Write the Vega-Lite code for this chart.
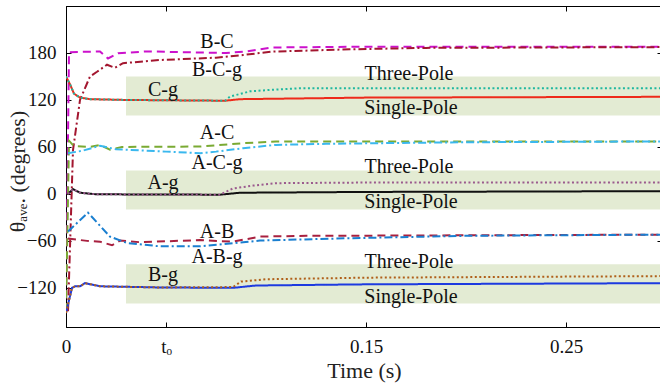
{
  "$schema": "https://vega.github.io/schema/vega-lite/v6.json",
  "width": 596,
  "height": 321,
  "autosize": "none",
  "padding": {"left": 66, "top": 6, "right": 0, "bottom": 63},
  "background": "white",
  "config": {
    "view": {"stroke": "black", "strokeWidth": 1},
    "axis": {
      "grid": false,
      "domainColor": "black",
      "tickColor": "black",
      "labelColor": "#111",
      "titleColor": "#222",
      "labelFont": "Liberation Serif",
      "titleFont": "Liberation Serif",
      "labelFontSize": 19,
      "titleFontSize": 22,
      "titleFontWeight": "normal"
    }
  },
  "datasets": {
    "lines": [
      {"s": "BC", "t": 0, "v": -150}, {"s": "BC", "t": 0.0015, "v": 181}, {"s": "BC", "t": 0.017, "v": 182}, {"s": "BC", "t": 0.021, "v": 173}, {"s": "BC", "t": 0.026, "v": 179.6}, {"s": "BC", "t": 0.04, "v": 182}, {"s": "BC", "t": 0.08, "v": 180}, {"s": "BC", "t": 0.09, "v": 182}, {"s": "BC", "t": 0.103, "v": 187}, {"s": "BC", "t": 0.15, "v": 188}, {"s": "BC", "t": 0.298, "v": 188},
      {"s": "BCg", "t": 0.001, "v": -150}, {"s": "BCg", "t": 0.0035, "v": 56}, {"s": "BCg", "t": 0.007, "v": 120}, {"s": "BCg", "t": 0.012, "v": 150}, {"s": "BCg", "t": 0.0155, "v": 156}, {"s": "BCg", "t": 0.0205, "v": 165}, {"s": "BCg", "t": 0.0245, "v": 161}, {"s": "BCg", "t": 0.0285, "v": 167}, {"s": "BCg", "t": 0.047, "v": 171}, {"s": "BCg", "t": 0.075, "v": 174}, {"s": "BCg", "t": 0.0885, "v": 177.4}, {"s": "BCg", "t": 0.103, "v": 181.7}, {"s": "BCg", "t": 0.142, "v": 184.7}, {"s": "BCg", "t": 0.18, "v": 186.5}, {"s": "BCg", "t": 0.298, "v": 187.5},
      {"s": "Cg1", "t": 0, "v": 150}, {"s": "Cg1", "t": 0.002, "v": 140}, {"s": "Cg1", "t": 0.004, "v": 128}, {"s": "Cg1", "t": 0.007, "v": 123}, {"s": "Cg1", "t": 0.012, "v": 121}, {"s": "Cg1", "t": 0.03, "v": 120}, {"s": "Cg1", "t": 0.0795, "v": 119}, {"s": "Cg1", "t": 0.087, "v": 121}, {"s": "Cg1", "t": 0.15, "v": 123}, {"s": "Cg1", "t": 0.298, "v": 124},
      {"s": "Cg3", "t": 0, "v": 150}, {"s": "Cg3", "t": 0.002, "v": 140}, {"s": "Cg3", "t": 0.004, "v": 128}, {"s": "Cg3", "t": 0.007, "v": 123}, {"s": "Cg3", "t": 0.012, "v": 121}, {"s": "Cg3", "t": 0.03, "v": 120}, {"s": "Cg3", "t": 0.0795, "v": 119}, {"s": "Cg3", "t": 0.082, "v": 124.3}, {"s": "Cg3", "t": 0.092, "v": 131}, {"s": "Cg3", "t": 0.103, "v": 133}, {"s": "Cg3", "t": 0.117, "v": 135}, {"s": "Cg3", "t": 0.298, "v": 135},
      {"s": "AC", "t": 0, "v": -150}, {"s": "AC", "t": 0.0015, "v": 68}, {"s": "AC", "t": 0.004, "v": 61}, {"s": "AC", "t": 0.012, "v": 60}, {"s": "AC", "t": 0.017, "v": 62.5}, {"s": "AC", "t": 0.022, "v": 56.6}, {"s": "AC", "t": 0.028, "v": 60}, {"s": "AC", "t": 0.067, "v": 60.5}, {"s": "AC", "t": 0.088, "v": 64.7}, {"s": "AC", "t": 0.105, "v": 66.8}, {"s": "AC", "t": 0.298, "v": 67},
      {"s": "ACg", "t": 0.001, "v": 52}, {"s": "ACg", "t": 0.008, "v": 55}, {"s": "ACg", "t": 0.017, "v": 61.5}, {"s": "ACg", "t": 0.025, "v": 57}, {"s": "ACg", "t": 0.05, "v": 54}, {"s": "ACg", "t": 0.067, "v": 52}, {"s": "ACg", "t": 0.075, "v": 54}, {"s": "ACg", "t": 0.0885, "v": 58.4}, {"s": "ACg", "t": 0.105, "v": 62.6}, {"s": "ACg", "t": 0.13, "v": 64}, {"s": "ACg", "t": 0.2, "v": 66}, {"s": "ACg", "t": 0.298, "v": 67},
      {"s": "Ag1", "t": 0.001, "v": 0}, {"s": "Ag1", "t": 0.0035, "v": 6}, {"s": "Ag1", "t": 0.007, "v": 1.5}, {"s": "Ag1", "t": 0.015, "v": -0.5}, {"s": "Ag1", "t": 0.077, "v": -1}, {"s": "Ag1", "t": 0.087, "v": 1.5}, {"s": "Ag1", "t": 0.15, "v": 2.5}, {"s": "Ag1", "t": 0.298, "v": 3.5},
      {"s": "Ag3", "t": 0.001, "v": 0}, {"s": "Ag3", "t": 0.0035, "v": 6}, {"s": "Ag3", "t": 0.007, "v": 1.5}, {"s": "Ag3", "t": 0.015, "v": -0.5}, {"s": "Ag3", "t": 0.077, "v": -1}, {"s": "Ag3", "t": 0.0835, "v": 7}, {"s": "Ag3", "t": 0.0935, "v": 10.6}, {"s": "Ag3", "t": 0.105, "v": 13.7}, {"s": "Ag3", "t": 0.15, "v": 14.5}, {"s": "Ag3", "t": 0.298, "v": 14.5},
      {"s": "AB", "t": 0.001, "v": -57}, {"s": "AB", "t": 0.0105, "v": -60}, {"s": "AB", "t": 0.017, "v": -61}, {"s": "AB", "t": 0.023, "v": -65.6}, {"s": "AB", "t": 0.027, "v": -59.6}, {"s": "AB", "t": 0.037, "v": -61.7}, {"s": "AB", "t": 0.067, "v": -59}, {"s": "AB", "t": 0.0835, "v": -61}, {"s": "AB", "t": 0.097, "v": -54.5}, {"s": "AB", "t": 0.12, "v": -53.6}, {"s": "AB", "t": 0.298, "v": -52},
      {"s": "ABg", "t": 0.001, "v": -48}, {"s": "ABg", "t": 0.011, "v": -24}, {"s": "ABg", "t": 0.022, "v": -54.6}, {"s": "ABg", "t": 0.0305, "v": -62.7}, {"s": "ABg", "t": 0.047, "v": -67}, {"s": "ABg", "t": 0.067, "v": -67}, {"s": "ABg", "t": 0.0755, "v": -65}, {"s": "ABg", "t": 0.097, "v": -59.6}, {"s": "ABg", "t": 0.142, "v": -56.6}, {"s": "ABg", "t": 0.2, "v": -53.5}, {"s": "ABg", "t": 0.298, "v": -52},
      {"s": "Bg1", "t": 0, "v": -152}, {"s": "Bg1", "t": 0.003, "v": -120}, {"s": "Bg1", "t": 0.0045, "v": -118}, {"s": "Bg1", "t": 0.007, "v": -118}, {"s": "Bg1", "t": 0.0095, "v": -114}, {"s": "Bg1", "t": 0.017, "v": -118}, {"s": "Bg1", "t": 0.047, "v": -119.5}, {"s": "Bg1", "t": 0.0835, "v": -120}, {"s": "Bg1", "t": 0.095, "v": -117}, {"s": "Bg1", "t": 0.15, "v": -115.5}, {"s": "Bg1", "t": 0.298, "v": -114},
      {"s": "Bg3", "t": 0, "v": -152}, {"s": "Bg3", "t": 0.003, "v": -120}, {"s": "Bg3", "t": 0.0045, "v": -118}, {"s": "Bg3", "t": 0.007, "v": -118}, {"s": "Bg3", "t": 0.0095, "v": -114}, {"s": "Bg3", "t": 0.017, "v": -118}, {"s": "Bg3", "t": 0.047, "v": -119.5}, {"s": "Bg3", "t": 0.0835, "v": -119}, {"s": "Bg3", "t": 0.0875, "v": -112}, {"s": "Bg3", "t": 0.1, "v": -109}, {"s": "Bg3", "t": 0.15, "v": -107}, {"s": "Bg3", "t": 0.298, "v": -105}
    ],
    "boxes": [
      {"x1": 0.03, "x2": 0.298, "y1": 100, "y2": 150},
      {"x1": 0.03, "x2": 0.298, "y1": -20, "y2": 30},
      {"x1": 0.03, "x2": 0.298, "y1": -140, "y2": -90}
    ],
    "labels": [
      {"label": "B-C", "t": 0.0755, "v": 194},
      {"label": "B-C-g", "t": 0.0755, "v": 158},
      {"label": "C-g", "t": 0.0485, "v": 133},
      {"label": "Three-Pole", "t": 0.1715, "v": 153},
      {"label": "Single-Pole", "t": 0.1725, "v": 110},
      {"label": "A-C", "t": 0.0755, "v": 78},
      {"label": "A-C-g", "t": 0.0755, "v": 40},
      {"label": "A-g", "t": 0.0485, "v": 14},
      {"label": "Three-Pole", "t": 0.1715, "v": 34.5},
      {"label": "Single-Pole", "t": 0.1725, "v": -10},
      {"label": "A-B", "t": 0.0755, "v": -48.5},
      {"label": "A-B-g", "t": 0.0755, "v": -80.4},
      {"label": "B-g", "t": 0.0485, "v": -103},
      {"label": "Three-Pole", "t": 0.1715, "v": -87},
      {"label": "Single-Pole", "t": 0.1725, "v": -131.5}
    ]
  },
  "layer": [
    {
      "data": {"name": "boxes"},
      "mark": {"type": "rect", "color": "#e3ebd3"},
      "encoding": {
        "x": {"field": "x1", "type": "quantitative", "scale": {"domain": [0, 0.298], "nice": false, "zero": false},
          "axis": {"orient": "bottom", "values": [0, 0.05, 0.15, 0.25], "labelExpr": "datum.value == 0.05 ? 'tₒ' : datum.value == 0 ? '0' : format(datum.value, '.2f')", "tickSize": -5, "labelPadding": 15, "title": "Time (s)", "titlePadding": 4, "labelFlush": false}},
        "x2": {"field": "x2"},
        "y": {"field": "y1", "type": "quantitative", "scale": {"domain": [-170, 240], "nice": false, "zero": false},
          "axis": {"orient": "left", "values": [-120, -60, 0, 60, 120, 180], "tickSize": -5, "labelPadding": 15, "title": "θₐᵥₑ. (degrees)", "titleX": -37, "titleY": 165, "titleBaseline": "bottom", "labelFlush": false}},
        "y2": {"field": "y2"}
      }
    },
    {
      "data": {"name": "lines"},
      "mark": {"type": "line", "strokeWidth": 2, "clip": true},
      "encoding": {
        "x": {"field": "t", "type": "quantitative", "axis": {"orient": "top", "values": [0, 0.05, 0.15, 0.25], "labels": false, "tickSize": -5, "title": null}},
        "y": {"field": "v", "type": "quantitative", "axis": {"orient": "right", "values": [-120, -60, 0, 60, 120, 180], "labels": false, "tickSize": -5, "title": null}},
        "detail": {"field": "s"},
        "color": {"field": "s", "type": "nominal", "legend": null,
          "scale": {"domain": ["BC", "BCg", "Cg1", "Cg3", "AC", "ACg", "Ag1", "Ag3", "AB", "ABg", "Bg1", "Bg3"],
            "range": ["#cc11cc", "#a3162f", "#ee2a1a", "#1fb8a0", "#7aaa33", "#3ab8ee", "#111111", "#9b5a8e", "#a8203f", "#1a7fd0", "#1d3ae0", "#b0601a"]}},
        "strokeDash": {"field": "s", "type": "nominal", "legend": null,
          "scale": {"domain": ["BC", "BCg", "Cg1", "Cg3", "AC", "ACg", "Ag1", "Ag3", "AB", "ABg", "Bg1", "Bg3"],
            "range": [[8, 5], [8, 3, 2, 3], [1, 0], [2, 2.5], [8, 5], [8, 3, 2, 3], [1, 0], [2, 2.5], [8, 5], [8, 3, 2, 3], [1, 0], [2, 2.5]]}},
        "order": {"field": "t", "type": "quantitative"}
      }
    },
    {
      "data": {"name": "labels"},
      "mark": {"type": "text", "font": "Liberation Serif", "fontSize": 20, "color": "#111", "align": "center", "baseline": "middle"},
      "encoding": {
        "x": {"field": "t", "type": "quantitative", "axis": null},
        "y": {"field": "v", "type": "quantitative", "axis": null},
        "text": {"field": "label"}
      }
    }
  ],
  "resolve": {"axis": {"x": "independent", "y": "independent"}}
}
